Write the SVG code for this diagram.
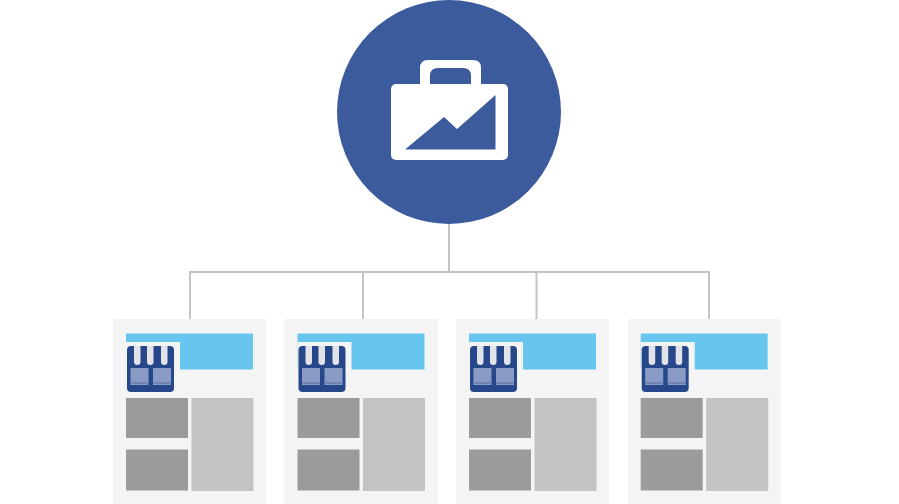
<svg xmlns="http://www.w3.org/2000/svg" xmlns:xlink="http://www.w3.org/1999/xlink" width="899" height="504" viewBox="0 0 899 504">
<style>
.bg{fill:#f4f4f4}.hd{fill:#68c6ee}.nt{fill:#f4f4f4}.d{fill:#9b9b9b}.l{fill:#c3c3c3}
.ln{fill:none;stroke:#c4c4c4;stroke-width:2}
.ib{fill:#28468a}.iw{fill:#e2e3e8}.ip{fill:#8a9cc6}.is{fill:#6f83b3}
</style>
<defs>
<filter id="soft" x="-5%" y="-5%" width="110%" height="110%"><feGaussianBlur stdDeviation="0.5"/></filter>
<g id="card">
<rect class="bg" x="113" y="319" width="153" height="185"/>
<rect class="hd" x="126" y="333.500" width="127" height="36"/>
<rect class="nt" x="126" y="342" width="54" height="30"/>
<rect class="nt" x="126" y="369" width="54" height="27"/>
<g filter="url(#soft)">
<rect class="ib" x="127" y="346" width="47" height="46" rx="4"/>
<path class="iw" d="M134 346h6.500v16q0 3-3.200 3t-3.300-3zM147 346h6.500v16q0 3-3.200 3t-3.300-3zM161 346h6.500v16q0 3-3.200 3t-3.300-3z"/>
<rect class="ip" x="130.500" y="368" width="18" height="17"/>
<rect class="ip" x="153" y="368" width="18" height="17"/>
<rect class="is" x="130.500" y="382" width="18" height="2"/>
<rect class="is" x="153" y="382" width="18" height="2"/>
</g>
<rect class="d" x="126" y="398" width="62" height="40"/>
<rect class="d" x="126" y="449.500" width="62" height="41"/>
<rect class="l" x="191.500" y="398" width="62" height="93"/>
</g>
</defs>
<g id="connectors">
<path class="ln" d="M449 223V272M190 319V272H709V319M363 272V319M536.500 272V319"/>
</g>
<g id="hub">
<circle cx="449" cy="112" r="112" fill="#3c5b9c"/>
<path d="M420 84V68q0-8 8-8h45q8 0 8 8v16h-10V76q0-8-8-8h-25q-8 0-8 8v8z" fill="#fff"/>
<rect x="391" y="84" width="117" height="76" rx="5" fill="#fff"/>
<path d="M405 149.500L444 117L457 129L495.500 95V149.500z" fill="#3c5b9c"/>
</g>
<g id="card-1"><use href="#card"/></g>
<g id="card-2"><use href="#card" x="171.500"/></g>
<g id="card-3"><use href="#card" x="343"/></g>
<g id="card-4"><use href="#card" x="514.700"/></g>
</svg>
